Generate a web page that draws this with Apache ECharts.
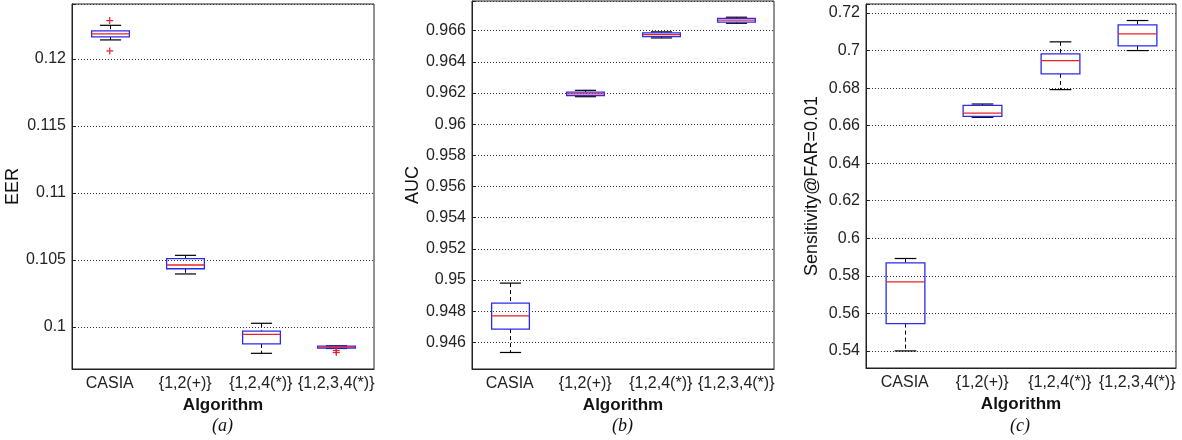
<!DOCTYPE html>
<html><head><meta charset="utf-8">
<script src="https://cdn.jsdelivr.net/npm/echarts@6/dist/echarts.min.js"></script>
<style>html,body{margin:0;padding:0;background:#fff}#c{width:1182px;height:440px}</style>
</head><body><div id="c"></div>
<script>
const categories = ['CASIA', '{1,2(+)}', '{1,2,4(*)}', '{1,2,3,4(*)}'];

// [lower whisker, Q1, median, Q3, upper whisker]
const eerTicks = [0.1, 0.105, 0.11, 0.115, 0.12];
const eerBoxes = [
  [0.12142, 0.12164, 0.12187, 0.12209, 0.12251],
  [0.10396, 0.10435, 0.10463, 0.10510, 0.10535],
  [0.09804, 0.09875, 0.09946, 0.09970, 0.10028],
  [0.09840, 0.09843, 0.09850, 0.09857, 0.09860]
];
const eerOutliers = [[0, 0.12286], [0, 0.12060], [3, 0.09825], [3, 0.09810]];

const aucTicks = [0.946, 0.948, 0.95, 0.952, 0.954, 0.956, 0.958, 0.96, 0.962, 0.964, 0.966];
const aucBoxes = [
  [0.94535, 0.94685, 0.94770, 0.94851, 0.94980],
  [0.96176, 0.96183, 0.96194, 0.96206, 0.96217],
  [0.96553, 0.96562, 0.96574, 0.96585, 0.96592],
  [0.96647, 0.96654, 0.96667, 0.96679, 0.96686]
];
const aucOutliers = [];

const sensTicks = [0.54, 0.56, 0.58, 0.6, 0.62, 0.64, 0.66, 0.68, 0.7, 0.72];
const sensBoxes = [
  [0.54000, 0.55456, 0.57680, 0.58693, 0.58923],
  [0.66443, 0.66496, 0.66672, 0.67083, 0.67152],
  [0.67920, 0.68757, 0.69467, 0.69824, 0.70464],
  [0.70000, 0.70251, 0.70891, 0.71371, 0.71600]
];
const sensOutliers = [];

const FONT = '"Liberation Sans", Arial, Helvetica, sans-serif';
const panels = [
  {left: 72, top: 4, width: 302, height: 365, min: 0.09687, max: 0.1241, ticks: eerTicks, boxes: eerBoxes, outliers: eerOutliers, name: 'EER', nameGap: 43, tag: '(a)'},
  {left: 472, top: 1, width: 302, height: 368, min: 0.94429, max: 0.9679, ticks: aucTicks, boxes: aucBoxes, outliers: aucOutliers, name: 'AUC', nameGap: 49, tag: '(b)'},
  {left: 866, top: 4, width: 310, height: 364, min: 0.5309, max: 0.7248, ticks: sensTicks, boxes: sensBoxes, outliers: sensOutliers, name: 'Sensitivity@FAR=0.01', nameGap: 45, tag: '(c)'}
];

function renderBox(params, api) {
  const x = api.value(0);
  const w = api.size([1, 0])[0];
  const bw = w * 0.25, cw = w * 0.14;
  const p = [1, 2, 3, 4, 5].map(k => api.coord([x, api.value(k)]));
  const cx = Math.round(p[0][0]) + 0.5;
  const yLow = p[0][1], yQ1 = p[1][1], yMed = p[2][1], yQ3 = p[3][1], yHigh = p[4][1];
  const dash = {stroke: '#000', lineWidth: 1, lineDash: [4, 3]};
  const solid = {stroke: '#000', lineWidth: 1.2};
  return {type: 'group', children: [
    {type: 'line', shape: {x1: cx, y1: yHigh, x2: cx, y2: yQ3}, style: dash},
    {type: 'line', shape: {x1: cx, y1: yQ1, x2: cx, y2: yLow}, style: dash},
    {type: 'line', shape: {x1: cx - cw, y1: yHigh, x2: cx + cw, y2: yHigh}, style: solid},
    {type: 'line', shape: {x1: cx - cw, y1: yLow, x2: cx + cw, y2: yLow}, style: solid},
    {type: 'rect', shape: {x: cx - bw, y: yQ3, width: 2 * bw, height: yQ1 - yQ3}, style: {fill: 'none', stroke: '#2a2af2', lineWidth: 1.3}},
    {type: 'line', shape: {x1: cx - bw, y1: yMed, x2: cx + bw, y2: yMed}, style: {stroke: '#e8202a', lineWidth: 1.3}}
  ]};
}
function renderPlus(params, api) {
  const c = api.coord([api.value(0), api.value(1)]);
  const s = 3.5;
  const st = {stroke: '#e8202a', lineWidth: 1.2};
  return {type: 'group', children: [
    {type: 'line', shape: {x1: c[0] - s, y1: c[1], x2: c[0] + s, y2: c[1]}, style: st},
    {type: 'line', shape: {x1: c[0], y1: c[1] - s, x2: c[0], y2: c[1] + s}, style: st}
  ]};
}

function tickLabel(ticks) {
  return function (v) {
    for (const t of ticks) {
      if (Math.abs(v - t) < 1e-7) return String(+t.toFixed(6));
    }
    return '';
  };
}

const grid = [], xAxis = [], yAxis = [], series = [], graphic = [];
panels.forEach((p, i) => {
  grid.push({left: p.left, top: p.top, width: p.width, height: p.height, show: true, borderColor: '#222', borderWidth: 1, backgroundColor: '#fff'});
  xAxis.push({
    gridIndex: i, type: 'category', data: categories,
    axisTick: {show: false},
    axisLine: {lineStyle: {color: '#222', width: 1}},
    axisLabel: {interval: 0, fontSize: 16, color: '#222', margin: 7, fontFamily: FONT},
    name: 'Algorithm', nameLocation: 'middle', nameGap: 26,
    nameTextStyle: {fontSize: 17, fontWeight: 'bold', color: '#111', fontFamily: FONT}
  });
  const step = p.ticks[1] - p.ticks[0];
  yAxis.push({
    gridIndex: i, type: 'value', min: p.min, max: p.max,
    minInterval: step, maxInterval: step, splitNumber: p.ticks.length,
    axisLine: {show: true, lineStyle: {color: '#222', width: 1}},
    axisTick: {show: true, inside: true, length: 4, lineStyle: {color: '#222'}},
    axisLabel: {fontSize: 16, color: '#222', margin: 6, fontFamily: FONT, formatter: tickLabel(p.ticks)},
    splitLine: {show: true, lineStyle: {color: '#333', width: 1, type: [1, 2]}},
    name: p.name, nameLocation: 'middle', nameGap: p.nameGap,
    nameTextStyle: {fontSize: 18, color: '#111', fontFamily: FONT}
  });
  series.push({
    type: 'custom', xAxisIndex: i, yAxisIndex: i,
    data: p.boxes.map((b, k) => [k].concat(b)),
    encode: {x: 0, y: [1, 2, 3, 4, 5]},
    renderItem: renderBox, silent: true, z: 5
  });
  series.push({
    type: 'custom', xAxisIndex: i, yAxisIndex: i,
    data: p.outliers,
    encode: {x: 0, y: 1},
    renderItem: renderPlus, silent: true, z: 6
  });
  graphic.push({
    type: 'text', left: p.left + p.width / 2 - 11, top: 417,
    style: {text: p.tag, font: 'italic 18px "Liberation Serif", "Times New Roman", serif', fill: '#111'}
  });
});

const chart = echarts.init(document.getElementById('c'), null, {renderer: 'canvas'});
chart.setOption({
  animation: false,
  backgroundColor: '#fff',
  grid, xAxis, yAxis, series, graphic
});
</script>
</body></html>
